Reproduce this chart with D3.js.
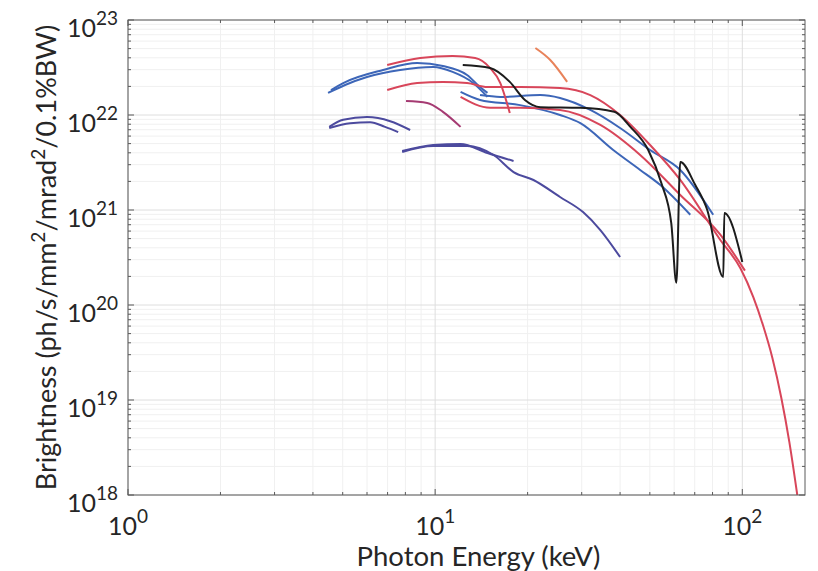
<!DOCTYPE html>
<html>
<head>
<meta charset="utf-8">
<script src="https://cdn.jsdelivr.net/npm/d3@7"></script>
<style>
  body { margin: 0; background: #fff; }
  text { font-family: Lato, "Open Sans", sans-serif; fill: #262626; }
</style>
</head>
<body>
<svg id="chart" width="818" height="571"></svg>
<script>
// tick decades (exponents) for both log axes
const xExponents = [0, 1, 2];
const yExponents = [18, 19, 20, 21, 22, 23];

// tuning curves, [photon energy keV, brightness]
const purpleA = [[4.52,7.5e21],[5.02,8.9e21],[6.00,9.5e21],[7.14,8.6e21],[8.29,6.95e21]];
const purpleB = [[4.52,7.3e21],[5.29,8.2e21],[6.14,8.4e21],[6.87,7.5e21],[7.58,6.6e21]];
const purpleC = [[7.81,4.18e21],[9.85,4.83e21],[12.1,4.95e21],[14.8,3.98e21],[18.0,3.28e21]];
const purpleD = [[7.81,4.08e21],[9.85,4.72e21],[12.7,4.72e21],[15.5,3.79e21],[18.0,2.51e21],
                 [20.9,2.07e21],[25.5,1.37e21],[30.3,9.5e20],[34.5,6.15e20],[40.0,3.2e20]];

const blueA = [[4.48,1.71e22],[5.09,2.07e22],[6.00,2.51e22],[7.69,2.98e22],[9.85,3.20e22],
               [11.4,2.84e22],[13.3,2.17e22],[14.8,1.55e22]];
const blueB = [[4.58,1.83e22],[5.02,2.17e22],[6.77,2.98e22],[8.74,3.53e22],[10.6,3.28e22],
               [12.7,2.64e22],[14.0,1.97e22],[14.8,1.71e22]];
const blueC = [[14.0,1.62e22],[16.3,1.55e22],[22.0,1.62e22],[25.5,1.51e22],[32.0,1.13e22],
               [40.0,7.3e21],[50.1,4.28e21],[62.8,2.64e21],[80.4,8.9e20]];
const blueD = [[12.1,1.75e22],[14.0,1.44e22],[18.9,1.27e22],[25.5,1.0e22],[29.7,8.2e21],
               [38.0,4.28e21],[46.5,2.64e21],[54.1,1.83e21],[67.7,8.9e20]];

const redA = [[6.98,3.36e22],[8.94,3.98e22],[11.4,4.18e22],[13.5,3.98e22],[15.1,3.12e22],
              [16.3,2.17e22],[17.5,1.05e22]];
const redB = [[6.98,1.83e22],[8.74,2.17e22],[10.6,2.23e22],[12.7,2.17e22],[14.8,1.97e22],
              [18.9,1.97e22],[25.5,1.92e22],[32.0,1.62e22],[40.0,1.0e22],[50.1,4.83e21],
              [62.8,2.07e21],[84.8,4.83e20],[98.5,2.45e20],[108.6,1.21e20],[117,6.0e19],
              [125.3,2.77e19],[134,1.05e19],[142.3,3.6e18],[151,1e18]];
const redC = [[12.1,1.55e22],[15.1,1.19e22],[18.9,1.19e22],[25.5,1.13e22],[34.5,7.85e21],
              [46.5,3.79e21],[62.8,1.44e21],[84.8,5.5e20],[102,2.3e20]];
const magentaA = [[8.04,1.40e22],[9.42,1.34e22],[10.6,1.08e22],[12.1,7.5e21]];
const orangeA = [[21.2,5.07e22],[23.7,3.79e22],[26.9,2.23e22]];

const blackA = [[12.3,3.36e22],[15.1,3.12e22],[17.5,2.23e22],[19.6,1.44e22],[22.0,1.21e22],
                [29.7,1.19e22],[38.3,1.08e22],[43.2,7.5e21],[49.4,4.28e21],[54.5,1.92e21],
                [58.7,7.3e20],[61.0,1.71e20],[62.8,3.2e21],[70.3,1.83e21],[76.9,1.0e21],
                [86.7,1.97e20],[87.4,9.3e20],[100,2.84e20]];

const series = [
  {data: purpleA, color: "#4c4a9e"},
  {data: purpleB, color: "#4c4a9e"},
  {data: purpleC, color: "#4c4a9e"},
  {data: purpleD, color: "#4c4a9e"},
  {data: blueA, color: "#3d66b8"},
  {data: blueB, color: "#3d66b8"},
  {data: blueC, color: "#3d66b8"},
  {data: blueD, color: "#3d66b8"},
  {data: redA, color: "#d8465a"},
  {data: redB, color: "#d8465a"},
  {data: redC, color: "#d8465a"},
  {data: magentaA, color: "#a53a72"},
  {data: orangeA, color: "#e8825a"},
  {data: blackA, color: "#1c1c1c"}
];

const margin = {top: 20, right: 13, bottom: 76, left: 128};
const W = 818, H = 571;

const svg = d3.select("#chart");

const x = d3.scaleLog().domain([1, 160]).range([margin.left, W - margin.right]);
const y = d3.scaleLog().domain([1e18, 1e23]).range([H - margin.bottom, margin.top]);

const [x0, x1] = x.range();
const [y0, y1] = y.range();

// minor positions 2..9 in each decade
function minors(lo, hi, dmax){
  const out = [];
  for (let e = lo; e <= hi; e++)
    for (let k = 2; k <= 9; k++){
      const v = k * Math.pow(10, e);
      if (v < dmax) out.push(v);
    }
  return out;
}
const xMinor = minors(0, 2, 160);
const yMinor = minors(18, 22, 1e23);
const xMajor = xExponents.map(e => Math.pow(10, e));
const yMajor = yExponents.map(e => Math.pow(10, e));

// grid
const grid = svg.append("g");
grid.selectAll(".xm").data(xMinor).enter().append("line")
  .attr("x1", d => x(d)).attr("x2", d => x(d)).attr("y1", y0).attr("y2", y1)
  .attr("stroke", "#f0f0f0").attr("stroke-width", 1);
grid.selectAll(".ym").data(yMinor).enter().append("line")
  .attr("x1", x0).attr("x2", x1).attr("y1", d => y(d)).attr("y2", d => y(d))
  .attr("stroke", "#f0f0f0").attr("stroke-width", 1);
grid.selectAll(".xM").data(xMajor).enter().append("line")
  .attr("x1", d => x(d)).attr("x2", d => x(d)).attr("y1", y0).attr("y2", y1)
  .attr("stroke", "#dedede").attr("stroke-width", 1);
grid.selectAll(".yM").data(yMajor).enter().append("line")
  .attr("x1", x0).attr("x2", x1).attr("y1", d => y(d)).attr("y2", d => y(d))
  .attr("stroke", "#dedede").attr("stroke-width", 1);

// curves
svg.append("clipPath").attr("id", "clip")
  .append("rect").attr("x", x0).attr("y", y1).attr("width", x1 - x0).attr("height", y0 - y1);

const line = d3.line()
  .x(d => x(d[0]))
  .y(d => y(d[1]))
  .curve(d3.curveMonotoneX);

svg.append("g").attr("clip-path", "url(#clip)")
  .selectAll("path").data(series).enter().append("path")
    .attr("d", d => line(d.data))
    .attr("fill", "none")
    .attr("stroke", d => d.color)
    .attr("stroke-width", 2)
    .attr("stroke-linejoin", "round");

// box + inward ticks, all four sides
const axisCol = "#5a5a5a";
const box = svg.append("g").attr("stroke", axisCol).attr("fill", "none");
box.append("rect").attr("x", x0).attr("y", y1).attr("width", x1 - x0).attr("height", y0 - y1)
  .attr("stroke-width", 1);

function xTickMarks(vals, len){
  box.selectAll(null).data(vals).enter().append("line")
    .attr("x1", d => x(d)).attr("x2", d => x(d)).attr("y1", y0).attr("y2", y0 - len);
  box.selectAll(null).data(vals).enter().append("line")
    .attr("x1", d => x(d)).attr("x2", d => x(d)).attr("y1", y1).attr("y2", y1 + len);
}
function yTickMarks(vals, len){
  box.selectAll(null).data(vals).enter().append("line")
    .attr("x1", x0).attr("x2", x0 + len).attr("y1", d => y(d)).attr("y2", d => y(d));
  box.selectAll(null).data(vals).enter().append("line")
    .attr("x1", x1).attr("x2", x1 - len).attr("y1", d => y(d)).attr("y2", d => y(d));
}
xTickMarks(xMajor, 6); xTickMarks(xMinor, 3);
yTickMarks(yMajor, 6); yTickMarks(yMinor, 3);

// tick labels as 10^n
const fs = 25, sup = 19;
const xl = svg.append("g").selectAll("text").data(xExponents).enter().append("text")
  .attr("x", d => x(Math.pow(10, d)))
  .attr("y", y0 + 40)
  .attr("text-anchor", "middle")
  .style("font-size", fs + "px");
xl.append("tspan").text("10");
xl.append("tspan").attr("dy", -12).style("font-size", sup + "px").text(d => d);

const yl = svg.append("g").selectAll("text").data(yExponents).enter().append("text")
  .attr("x", x0 - 10)
  .attr("y", d => y(Math.pow(10, d)) + 17)
  .attr("text-anchor", "end")
  .style("font-size", fs + "px");
yl.append("tspan").text("10");
yl.append("tspan").attr("dy", -12).style("font-size", sup + "px").text(d => d);

// axis titles
svg.append("text")
  .attr("x", (x0 + x1) / 2 + 12)
  .attr("y", H - 5)
  .attr("text-anchor", "middle")
  .style("font-size", "27.5px")
  .text("Photon Energy (keV)");

const yt = svg.append("text")
  .attr("transform", `translate(56,${(y0 + y1) / 2}) rotate(-90)`)
  .attr("text-anchor", "middle")
  .style("font-size", "27px");
yt.append("tspan").text("Brightness (ph/s/mm");
yt.append("tspan").attr("dy", -11).style("font-size", "19px").text("2");
yt.append("tspan").attr("dy", 11).text("/mrad");
yt.append("tspan").attr("dy", -11).style("font-size", "19px").text("2");
yt.append("tspan").attr("dy", 11).text("/0.1%BW)");
</script>
</body>
</html>
